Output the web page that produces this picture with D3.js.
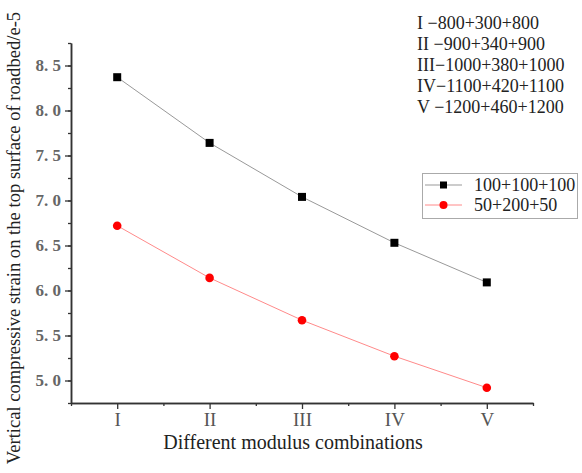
<!DOCTYPE html>
<html lang="en">
<head>
   <meta charset="UTF-8">
   <title>Vertical compressive strain</title>
   <style>
      body { margin: 0; background: #fff; }
      svg text { font-family: 'Liberation Serif', 'DejaVu Serif', serif !important; }
   </style>
   <script src="https://cdn.jsdelivr.net/npm/d3@7"></script>
</head>
<body>
   <div class="d3"></div>
   <script>
      // data
      const categories = ['I', 'II', 'III', 'IV', 'V']
      const seriesA = [8.37, 7.64, 7.04, 6.53, 6.09]   // 100+100+100
      const seriesB = [6.72, 6.14, 5.67, 5.27, 4.92]   // 50+200+50
      const seriesNames = ['100+100+100', '50+200+50']
      const yTicks = [5.0, 5.5, 6.0, 6.5, 7.0, 7.5, 8.0, 8.5]
      const notes = ['I −800+300+800', 'II −900+340+900', 'III−1000+380+1000', 'IV−1100+420+1100', 'V −1200+460+1200']

      const width = 582, height = 473
      const serif = "'Liberation Serif', 'DejaVu Serif', serif"
      const svg = d3.select('.d3').append('svg')
         .attr('width', width)
         .attr('height', height)
         .attr('font-family', serif)

      const padding = { top: 43, right: 49, bottom: 70, left: 71 }

      // scales
      const xScale = d3.scaleLinear()
         .domain([0.5, categories.length + 0.5])
         .range([padding.left, width - padding.right])

      const yScale = d3.scaleLinear()
         .domain([4.75, 8.75])
         .range([height - padding.bottom, padding.top])

      const axisColor = '#333'

      // x axis (minor ticks first, then major)
      svg.append('g')
         .attr('transform', `translate(0, ${height - padding.bottom})`)
         .call(d3.axisBottom(xScale)
            .tickValues(d3.range(0.5, categories.length + 1, 1))
            .tickSize(3).tickSizeOuter(0).tickFormat(''))
      const xAxis = svg.append('g')
         .attr('transform', `translate(0, ${height - padding.bottom})`)
         .call(d3.axisBottom(xScale)
            .tickValues(d3.range(1, categories.length + 1))
            .tickSize(6).tickSizeOuter(0)
            .tickFormat(d => categories[d - 1]))
      xAxis.attr('font-family', serif)
      xAxis.selectAll('text')
         .attr('fill', '#555')
         .attr('font-size', 19)
         .attr('y', 10)
         .attr('dy', '0.71em')

      // y axis
      svg.append('g')
         .attr('transform', `translate(${padding.left}, 0)`)
         .call(d3.axisLeft(yScale)
            .tickValues(d3.range(4.75, 8.76, 0.25))
            .tickSize(3).tickSizeOuter(0).tickFormat(''))
      const yAxis = svg.append('g')
         .attr('transform', `translate(${padding.left}, 0)`)
         .call(d3.axisLeft(yScale)
            .tickValues(yTicks)
            .tickSize(6).tickSizeOuter(0)
            .tickFormat(d => d3.format('.1f')(d).replace('.', '. ')))
      yAxis.attr('font-family', serif)
      yAxis.selectAll('text')
         .attr('fill', '#666')
         .attr('font-size', 17)
         .attr('font-weight', 'bold')
         .attr('x', -10)

      svg.selectAll('.domain').attr('stroke', axisColor).attr('stroke-width', 1.5)
      svg.selectAll('.tick line').attr('stroke', axisColor).attr('stroke-width', 1.3)

      // lines
      const line = d3.line()
         .x((d, i) => xScale(i + 1))
         .y(d => yScale(d))

      svg.append('path')
         .datum(seriesA)
         .attr('fill', 'none')
         .attr('stroke', '#999')
         .attr('stroke-width', 1)
         .attr('d', line)

      svg.append('path')
         .datum(seriesB)
         .attr('fill', 'none')
         .attr('stroke', '#ff8a8a')
         .attr('stroke-width', 1)
         .attr('d', line)

      // markers
      svg.selectAll('.sq')
         .data(seriesA)
         .enter()
         .append('rect')
         .attr('class', 'sq')
         .attr('x', (d, i) => xScale(i + 1) - 4)
         .attr('y', d => yScale(d) - 4)
         .attr('width', 8)
         .attr('height', 8)
         .attr('fill', '#000')

      svg.selectAll('.dot')
         .data(seriesB)
         .enter()
         .append('circle')
         .attr('class', 'dot')
         .attr('cx', (d, i) => xScale(i + 1))
         .attr('cy', d => yScale(d))
         .attr('r', 4.3)
         .attr('fill', '#f00')

      // axis titles
      svg.append('text')
         .attr('transform', `translate(20, 238) rotate(-90)`)
         .attr('text-anchor', 'middle')
         .attr('font-size', 18.6)
         .attr('fill', '#222')
         .text('Vertical compressive strain on the top surface of roadbed/e-5')

      svg.append('text')
         .attr('x', 293)
         .attr('y', 449)
         .attr('text-anchor', 'middle')
         .attr('font-size', 20)
         .attr('fill', '#222')
         .text('Different modulus combinations')

      // notes top right
      svg.selectAll('.note')
         .data(notes)
         .enter()
         .append('text')
         .attr('class', 'note')
         .attr('x', 417)
         .attr('y', (d, i) => 29 + i * 21)
         .attr('font-size', 18)
         .attr('fill', '#222')
         .text(d => d)

      // legend
      const legend = svg.append('g')
      legend.append('rect')
         .attr('x', 422.5).attr('y', 173.5)
         .attr('width', 155).attr('height', 45)
         .attr('fill', '#fff')
         .attr('stroke', '#aaa')

      const legendRows = [
         { name: seriesNames[0], line: '#999', marker: 'square' },
         { name: seriesNames[1], line: '#ff8a8a', marker: 'circle' }
      ]
      legendRows.forEach((r, i) => {
         const y = 185 + i * 20
         legend.append('line')
            .attr('x1', 425).attr('x2', 462)
            .attr('y1', y).attr('y2', y)
            .attr('stroke', r.line)
         if (r.marker === 'square') {
            legend.append('rect')
               .attr('x', 440).attr('y', y - 3.5)
               .attr('width', 7).attr('height', 7)
               .attr('fill', '#000')
         } else {
            legend.append('circle')
               .attr('cx', 443.5).attr('cy', y).attr('r', 4)
               .attr('fill', '#f00')
         }
         legend.append('text')
            .attr('x', 474).attr('y', y + 6)
            .attr('font-size', 18)
            .attr('fill', '#222')
            .text(r.name)
      })
   </script>
</body>
</html>
